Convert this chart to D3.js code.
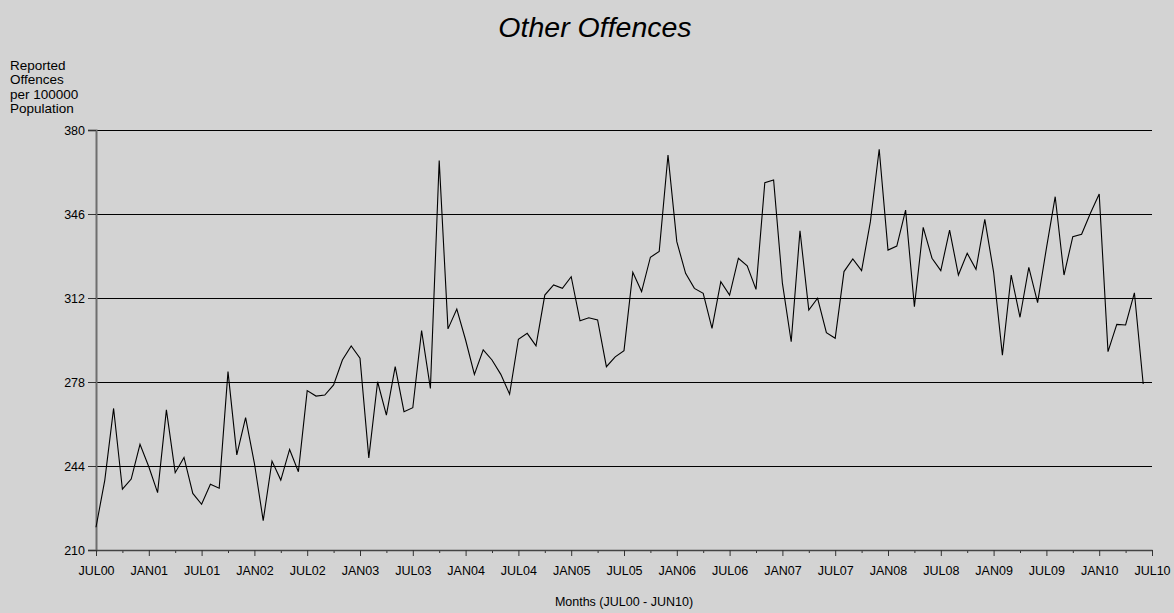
<!DOCTYPE html>
<html>
<head>
<meta charset="utf-8">
<script src="https://cdn.jsdelivr.net/npm/d3@7"></script>
<style>
  html, body { margin: 0; padding: 0; background: #d3d3d3; }
  svg { display: block; }
  text { font-family: "Liberation Sans", Arial, sans-serif; fill: #000; }
</style>
</head>
<body>
<svg id="chart" width="1174" height="613"></svg>
<script>
// ---- data ----
const title = "Other Offences";
const yTitleLines = ["Reported", "Offences", "per 100000", "Population"];
const xTitle = "Months (JUL00 - JUN10)";
const yTicks = [210, 244, 278, 312, 346, 380];
const xTickLabels = ["JUL00","JAN01","JUL01","JAN02","JUL02","JAN03","JUL03","JAN04","JUL04","JAN05",
  "JUL05","JAN06","JUL06","JAN07","JUL07","JAN08","JUL08","JAN09","JUL09","JAN10","JUL10"];
// monthly values JUL00 .. JUN10 (120 months)
const values = [
  219.2, 238.3, 267.3, 234.6, 238.7, 252.8, 243.7, 233.2, 266.7, 241.3, 247.5, 232.9,
  228.5, 236.6, 235.0, 282.2, 248.5, 263.6, 245.1, 221.9, 246.0, 238.3, 250.7, 241.7,
  274.5, 272.3, 272.7, 276.8, 286.9, 292.6, 287.6, 247.3, 278.1, 264.6, 284.2, 266.0,
  267.6, 298.8, 275.4, 367.6, 299.5, 307.5, 295.0, 281.1, 291.0, 286.9, 281.1, 273.1,
  295.3, 297.7, 292.6, 313.2, 317.3, 315.9, 320.6, 302.8, 304.0, 303.1, 284.2, 288.2,
  290.7, 322.4, 314.6, 328.5, 330.8, 369.9, 334.8, 322.0, 315.9, 313.9, 299.7, 318.6,
  313.2, 328.1, 325.0, 315.5, 358.7, 359.8, 318.0, 294.3, 339.2, 307.1, 311.9, 298.0,
  295.7, 322.7, 327.8, 323.1, 342.9, 372.2, 331.4, 333.0, 347.6, 308.5, 340.6, 328.1,
  323.1, 339.5, 321.3, 330.1, 323.6, 343.8, 322.5, 288.9, 321.3, 304.2, 324.4, 310.1,
  332.1, 353.0, 321.3, 336.8, 337.8, 346.3, 354.1, 290.3, 301.3, 301.1, 314.1, 277.2
];

// ---- layout ----
const svg = d3.select("#chart");
const mLeft = 96, mRight = 1152, mTop = 130, mBottom = 550;
const nMonths = 120;

const x = d3.scaleLinear().domain([0, nMonths]).range([mLeft, mRight]);
const y = d3.scaleLinear().domain([210, 380]).range([mBottom, mTop]);

svg.append("rect").attr("width", 1174).attr("height", 613).attr("fill", "#d3d3d3");

// title
svg.append("text")
  .attr("x", 595).attr("y", 37)
  .attr("text-anchor", "middle")
  .attr("font-size", 28.5).attr("font-style", "italic")
  .text(title);

// y title
svg.append("g").selectAll("text").data(yTitleLines).join("text")
  .attr("x", 10).attr("y", (d, i) => 70 + i * 14.3)
  .attr("font-size", 13.5)
  .text(d => d);

// gridlines
svg.append("g").selectAll("line").data(yTicks.filter(d => d !== 210)).join("line")
  .attr("x1", mLeft).attr("x2", mRight)
  .attr("y1", d => y(d) + 0.5).attr("y2", d => y(d) + 0.5)
  .attr("stroke", "#000").attr("stroke-width", 1);

// y axis
const yAxis = d3.axisLeft(y).tickValues(yTicks).tickSize(8).tickPadding(3).tickFormat(d3.format("d"));
const gy = svg.append("g").attr("transform", `translate(${mLeft},0)`).call(yAxis);
gy.select(".domain").attr("stroke", "#6e6e6e").attr("stroke-width", 2);
gy.selectAll(".tick line").attr("stroke", "#333");
gy.selectAll(".tick text").attr("font-size", 12.5).attr("font-family", "Liberation Sans, Arial, sans-serif").attr("fill", "#000");

// x axis
const majorIdx = d3.range(0, nMonths + 1, 6);
const minorIdx = d3.range(3, nMonths, 6);
const gxMinor = svg.append("g").attr("transform", `translate(0,${mBottom})`)
  .call(d3.axisBottom(x).tickValues(minorIdx).tickSize(3).tickFormat(""));
gxMinor.select(".domain").remove();
gxMinor.selectAll(".tick line").attr("stroke", "#333");
const gx = svg.append("g").attr("transform", `translate(0,${mBottom})`)
  .call(d3.axisBottom(x).tickValues(majorIdx).tickSize(6).tickSizeOuter(0).tickPadding(10)
    .tickFormat((d, i) => xTickLabels[i]));
gx.select(".domain").attr("stroke", "#444").attr("stroke-width", 1.5);
gx.selectAll(".tick line").attr("stroke", "#333");
gx.selectAll(".tick text").attr("font-size", 12.5).attr("font-family", "Liberation Sans, Arial, sans-serif").attr("fill", "#000");

// x title
svg.append("text")
  .attr("x", 624).attr("y", 606)
  .attr("text-anchor", "middle")
  .attr("font-size", 12.5)
  .text(xTitle);

// line
const line = d3.line().x((d, i) => x(i)).y(d => y(d));
svg.append("path").datum(values)
  .attr("d", line)
  .attr("fill", "none")
  .attr("stroke", "#000")
  .attr("stroke-width", 1.1)
  .attr("stroke-linejoin", "miter");
</script>
</body>
</html>
